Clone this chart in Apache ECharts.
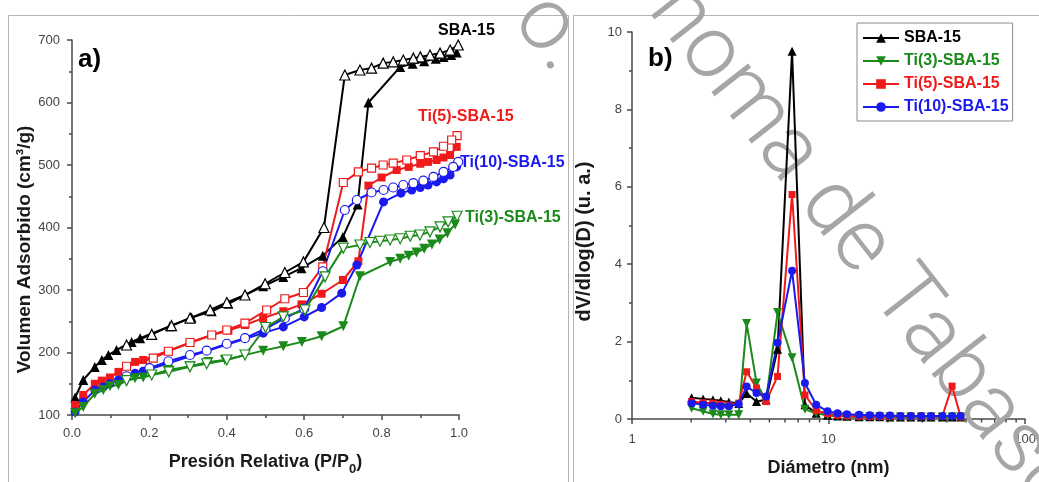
<!DOCTYPE html>
<html>
<head>
<meta charset="utf-8">
<script src="https://cdn.jsdelivr.net/npm/echarts@6/dist/echarts.min.js"></script>
<style>
  html, body { margin: 0; padding: 0; background: #ffffff; }
  #chart { width: 1039px; height: 482px; }
</style>
</head>
<body>
<div id="chart"></div>
<script>
// ---------- a) N2 isotherms: [P/P0, volume cm3/g] ----------
const sbaAds = [[0.008,128],[0.029,156],[0.059,177],[0.077,188],[0.094,196],[0.115,204],[0.154,217],[0.176,223],[0.253,242],[0.309,256],[0.361,266],[0.404,278],[0.447,292],[0.494,306],[0.546,321],[0.593,335],[0.648,355],[0.700,385],[0.738,437],[0.766,600],[0.848,657],[0.880,662],[0.910,666],[0.940,670],[0.960,673],[0.980,676],[0.994,680]];
const sbaDes = [[0.998,692],[0.977,684],[0.951,679],[0.925,676],[0.900,673],[0.882,671],[0.856,668],[0.830,665],[0.804,663],[0.774,655],[0.744,652],[0.705,644],[0.651,400],[0.598,345],[0.550,328],[0.499,310],[0.447,292],[0.400,280],[0.357,268],[0.305,255],[0.257,243],[0.206,229],[0.141,212]];

const ti5Ads = [[0.008,116],[0.029,132],[0.059,150],[0.077,155],[0.098,160],[0.120,169],[0.163,185],[0.184,188],[0.361,228],[0.404,235],[0.447,244],[0.494,255],[0.546,266],[0.593,277],[0.645,294],[0.700,316],[0.740,346],[0.766,467],[0.800,480],[0.839,492],[0.870,497],[0.900,502],[0.920,505],[0.942,508],[0.960,512],[0.977,516],[0.994,529]];
const ti5Des = [[0.995,547],[0.981,540],[0.960,530],[0.934,521],[0.900,515],[0.865,508],[0.830,503],[0.804,500],[0.774,495],[0.740,489],[0.701,472],[0.648,337],[0.598,296],[0.550,286],[0.503,268],[0.447,247],[0.400,236],[0.361,228],[0.305,216],[0.249,202],[0.210,191],[0.141,178]];

const ti10Ads = [[0.008,105],[0.029,121],[0.059,140],[0.081,145],[0.098,150],[0.120,156],[0.163,167],[0.184,170],[0.494,231],[0.546,241],[0.600,257],[0.645,272],[0.697,295],[0.736,340],[0.805,441],[0.850,455],[0.878,460],[0.900,464],[0.920,468],[0.942,473],[0.960,478],[0.977,484],[0.994,497]];
const ti10Des = [[0.998,505],[0.985,497],[0.960,489],[0.934,481],[0.908,475],[0.882,471],[0.856,468],[0.830,464],[0.805,460],[0.774,456],[0.736,444],[0.705,428],[0.648,330],[0.600,270],[0.550,255],[0.500,238],[0.447,223],[0.400,214],[0.348,203],[0.305,196],[0.249,186],[0.200,175],[0.141,162]];

const ti3Ads = [[0.008,103],[0.029,113],[0.059,134],[0.081,140],[0.098,146],[0.120,148],[0.141,155],[0.163,159],[0.184,160],[0.249,172],[0.305,178],[0.352,185],[0.395,188],[0.494,203],[0.546,210],[0.594,217],[0.645,226],[0.701,242],[0.744,322],[0.822,345],[0.848,350],[0.870,355],[0.890,360],[0.910,366],[0.930,373],[0.950,381],[0.970,391],[0.990,405]];
const ti3Des = [[0.995,418],[0.972,409],[0.951,401],[0.925,393],[0.899,388],[0.874,386],[0.848,382],[0.822,380],[0.796,378],[0.770,376],[0.744,372],[0.701,367],[0.654,321],[0.602,268],[0.546,257],[0.500,240],[0.447,196],[0.400,188],[0.348,182],[0.305,177],[0.250,169],[0.206,164],[0.141,155]];

// ---------- b) BJH pore size distribution ----------
const diameters = [2.01,2.30,2.58,2.83,3.11,3.49,3.83,4.30,4.81,5.50,6.52,7.58,8.65,9.88,11.1,12.4,14.3,16.2,18.2,20.5,23.2,26.2,29.6,33.2,37.9,42.5,47.0];
const psdSBA  = [0.55,0.52,0.50,0.47,0.44,0.40,0.66,0.45,0.50,1.80,9.50,0.37,0.15,0.10,0.08,0.07,0.06,0.06,0.06,0.05,0.05,0.05,0.05,0.05,0.05,0.05,0.05];
const psdTi3  = [0.28,0.20,0.13,0.11,0.11,0.11,2.47,0.93,0.48,2.75,1.58,0.25,0.15,0.10,0.08,0.07,0.06,0.06,0.06,0.05,0.05,0.05,0.05,0.05,0.05,0.05,0.05];
const psdTi5  = [0.45,0.42,0.41,0.38,0.36,0.41,1.22,0.80,0.45,1.10,5.80,0.62,0.22,0.14,0.10,0.08,0.07,0.07,0.07,0.07,0.07,0.07,0.07,0.07,0.07,0.85,0.05];
const psdTi10 = [0.41,0.37,0.34,0.33,0.33,0.39,0.84,0.67,0.58,1.97,3.83,0.93,0.37,0.20,0.15,0.12,0.11,0.10,0.09,0.09,0.08,0.08,0.08,0.08,0.08,0.08,0.08];

// log-axis minor ticks (2..9 per decade)
const logMinorTicks = [2,3,4,5,6,7,8,9,20,30,40,50,60,70,80,90];

const sampleNames = ['SBA-15', 'Ti(3)-SBA-15', 'Ti(5)-SBA-15', 'Ti(10)-SBA-15'];

const C_BLACK = '#000000', C_GREEN = '#1b8a1b', C_RED = '#f01a1a', C_BLUE = '#1a1aee';
const FONT = '"Liberation Sans", Arial, Helvetica, sans-serif';
const AXIS_COLOR = '#4a4a4a';
const WM_ANGLE = -52 * Math.PI / 180;
const WM_STYLE = { fontSize: 88, fontFamily: 'Roboto, "Liberation Sans", sans-serif', fontWeight: 300, fill: '#a6a6a6' };

const chart = echarts.init(document.getElementById('chart'), null, { renderer: 'canvas' });

function isoSeries(name, data, color, symbol, rotate, filled, size) {
  return {
    type: 'line', name, xAxisIndex: 0, yAxisIndex: 0, data,
    symbol, symbolRotate: rotate, symbolSize: size, showSymbol: true,
    lineStyle: { color, width: 2 },
    itemStyle: { color: filled ? color : '#ffffff', borderColor: color, borderWidth: filled ? 0 : 1.2 },
    emphasis: { disabled: true }, silent: true
  };
}

function psdSeries(name, values, color, symbol, rotate, size) {
  return {
    type: 'line', name, xAxisIndex: 1, yAxisIndex: 1,
    data: diameters.map((d, i) => [d, values[i]]),
    symbol, symbolRotate: rotate, symbolSize: size, showSymbol: true,
    lineStyle: { color, width: 2 },
    itemStyle: { color },
    emphasis: { disabled: true }, silent: true
  };
}

const axisCommon = {
  axisLine: { show: true, onZero: false, lineStyle: { color: AXIS_COLOR, width: 1.5 } },
  axisTick: { show: true, inside: false, length: 5, lineStyle: { color: AXIS_COLOR, width: 1.5 } },
  minorTick: { show: true, splitNumber: 2, length: 3, lineStyle: { color: AXIS_COLOR, width: 1.5 } },
  splitLine: { show: false },
  minorSplitLine: { show: false }
};
const tickLabel = { color: '#444444', fontSize: 13, fontFamily: FONT };
const titleStyle = { color: '#1a1a1a', fontSize: 19, fontWeight: 'bold', fontFamily: FONT };

const option = {
  animation: false,
  backgroundColor: '#ffffff',
  grid: [
    { left: 72, top: 40, width: 387, height: 375 },
    { left: 632, top: 32, width: 405, height: 389 }
  ],
  xAxis: [
    Object.assign({}, axisCommon, {
      type: 'value', gridIndex: 0, min: 0, max: 1, interval: 0.2,
      axisLabel: Object.assign({}, tickLabel, { margin: 12, formatter: v => v.toFixed(1) }),
      name: '{n|Presión Relativa (P/P}{s|0}{n|)}',
      nameLocation: 'middle', nameGap: 38,
      nameTextStyle: {
        fontFamily: FONT, fontWeight: 'bold', color: '#1a1a1a', fontSize: 18,
        rich: {
          n: { fontFamily: FONT, fontWeight: 'bold', color: '#1a1a1a', fontSize: 18, lineHeight: 20, verticalAlign: 'top' },
          s: { fontFamily: FONT, fontWeight: 'bold', color: '#1a1a1a', fontSize: 13, lineHeight: 13, padding: [10, 0, 0, 0], verticalAlign: 'top' }
        }
      }
    }),
    Object.assign({}, axisCommon, {
      type: 'log', gridIndex: 1, min: 1, max: 100, logBase: 10,
      minorTick: { show: false },
      axisLabel: Object.assign({}, tickLabel, { margin: 14 }),
      name: 'Diámetro (nm)', nameLocation: 'middle', nameGap: 40,
      nameTextStyle: Object.assign({}, titleStyle, { fontSize: 18 })
    })
  ],
  yAxis: [
    Object.assign({}, axisCommon, {
      type: 'value', gridIndex: 0, min: 100, max: 700, interval: 100,
      axisLabel: Object.assign({}, tickLabel, { margin: 12 }),
      name: 'Volumen Adsorbido (cm³/g)', nameLocation: 'middle', nameGap: 38,
      nameTextStyle: Object.assign({}, titleStyle, { padding: [0, 44, 0, 0] })
    }),
    Object.assign({}, axisCommon, {
      type: 'value', gridIndex: 1, min: 0, max: 10, interval: 2,
      axisLabel: Object.assign({}, tickLabel, { margin: 10 }),
      name: 'dV/dlog(D) (u. a.)', nameLocation: 'middle', nameGap: 38,
      nameTextStyle: Object.assign({}, titleStyle, { fontSize: 20, padding: [0, 32, 0, 0] })
    })
  ],
  legend: {
    orient: 'vertical', left: 857, top: 23,
    itemWidth: 36, itemHeight: 12, itemGap: 7,
    padding: [7, 4, 6, 5],
    borderColor: '#8a8a8a', borderWidth: 1, backgroundColor: '#ffffff',
    selectedMode: false,
    textStyle: { fontFamily: FONT, fontWeight: 'bold', fontSize: 16, lineHeight: 16 },
    data: [
      { name: sampleNames[0], textStyle: { color: C_BLACK } },
      { name: sampleNames[1], textStyle: { color: C_GREEN } },
      { name: sampleNames[2], textStyle: { color: C_RED } },
      { name: sampleNames[3], textStyle: { color: C_BLUE } }
    ]
  },
  graphic: {
    elements: [
      // panel frames
      { type: 'rect', z: 0, silent: true, shape: { x: 8.5, y: 15.5, width: 560, height: 480 },
        style: { fill: 'none', stroke: '#b4b4b4', lineWidth: 1 } },
      { type: 'rect', z: 0, silent: true, shape: { x: 573.5, y: 15.5, width: 480, height: 480 },
        style: { fill: 'none', stroke: '#b4b4b4', lineWidth: 1 } },
      // institutional watermark (diagonal)
      { type: 'text', z: 1, silent: true, x: 554, y: -145, rotation: WM_ANGLE,
        style: Object.assign({ text: 'Autónoma de Tabasco', align: 'left', verticalAlign: 'middle' }, WM_STYLE) },
      { type: 'text', z: 1, silent: true, x: 572, y: 62, rotation: WM_ANGLE,
        style: Object.assign({ text: 'o.', align: 'right', verticalAlign: 'middle' }, WM_STYLE) },
      // panel letters
      { type: 'text', z: 5, silent: true, x: 78, y: 60,
        style: { text: 'a)', fontSize: 26, fontWeight: 'bold', fontFamily: FONT, fill: '#000', verticalAlign: 'middle' } },
      { type: 'text', z: 5, silent: true, x: 648, y: 59,
        style: { text: 'b)', fontSize: 26, fontWeight: 'bold', fontFamily: FONT, fill: '#000', verticalAlign: 'middle' } },
      // isotherm labels
      { type: 'text', z: 5, silent: true, x: 438, y: 31,
        style: { text: sampleNames[0], fontSize: 16, fontWeight: 'bold', fontFamily: FONT, fill: C_BLACK, verticalAlign: 'middle' } },
      { type: 'text', z: 5, silent: true, x: 418, y: 117,
        style: { text: sampleNames[2], fontSize: 16, fontWeight: 'bold', fontFamily: FONT, fill: C_RED, verticalAlign: 'middle' } },
      { type: 'text', z: 5, silent: true, x: 460, y: 163,
        style: { text: sampleNames[3], fontSize: 16, fontWeight: 'bold', fontFamily: FONT, fill: C_BLUE, verticalAlign: 'middle' } },
      { type: 'text', z: 5, silent: true, x: 465, y: 218,
        style: { text: sampleNames[1], fontSize: 16, fontWeight: 'bold', fontFamily: FONT, fill: C_GREEN, verticalAlign: 'middle' } }
    ]
  },
  series: [
    // b) pore size distribution
    psdSeries(sampleNames[0], psdSBA, C_BLACK, 'triangle', 0, 9),
    psdSeries(sampleNames[1], psdTi3, C_GREEN, 'triangle', 180, 9),
    psdSeries(sampleNames[2], psdTi5, C_RED, 'rect', 0, 7),
    psdSeries(sampleNames[3], psdTi10, C_BLUE, 'circle', 0, 8),
    // minor ticks of the logarithmic diameter axis
    {
      type: 'custom', name: 'logTicks', xAxisIndex: 1, yAxisIndex: 1, silent: true, clip: false, z: 1,
      data: logMinorTicks.map(v => [v, 0]),
      renderItem: (params, api) => {
        const p = api.coord([api.value(0), 0]);
        return { type: 'line', shape: { x1: p[0], y1: p[1], x2: p[0], y2: p[1] + 3.5 },
                 style: { stroke: AXIS_COLOR, lineWidth: 1.5 } };
      }
    },
    // a) isotherms: filled = adsorption, open = desorption
    isoSeries('SBA-15 ads', sbaAds, C_BLACK, 'triangle', 0, true, 10),
    isoSeries('SBA-15 des', sbaDes, C_BLACK, 'triangle', 0, false, 10),
    isoSeries('Ti(5)-SBA-15 ads', ti5Ads, C_RED, 'rect', 0, true, 8),
    isoSeries('Ti(5)-SBA-15 des', ti5Des, C_RED, 'rect', 0, false, 8),
    isoSeries('Ti(10)-SBA-15 ads', ti10Ads, C_BLUE, 'circle', 0, true, 9),
    isoSeries('Ti(10)-SBA-15 des', ti10Des, C_BLUE, 'circle', 0, false, 9),
    isoSeries('Ti(3)-SBA-15 ads', ti3Ads, C_GREEN, 'triangle', 180, true, 10),
    isoSeries('Ti(3)-SBA-15 des', ti3Des, C_GREEN, 'triangle', 180, false, 10)
  ]
};

chart.setOption(option);
</script>
</body>
</html>
